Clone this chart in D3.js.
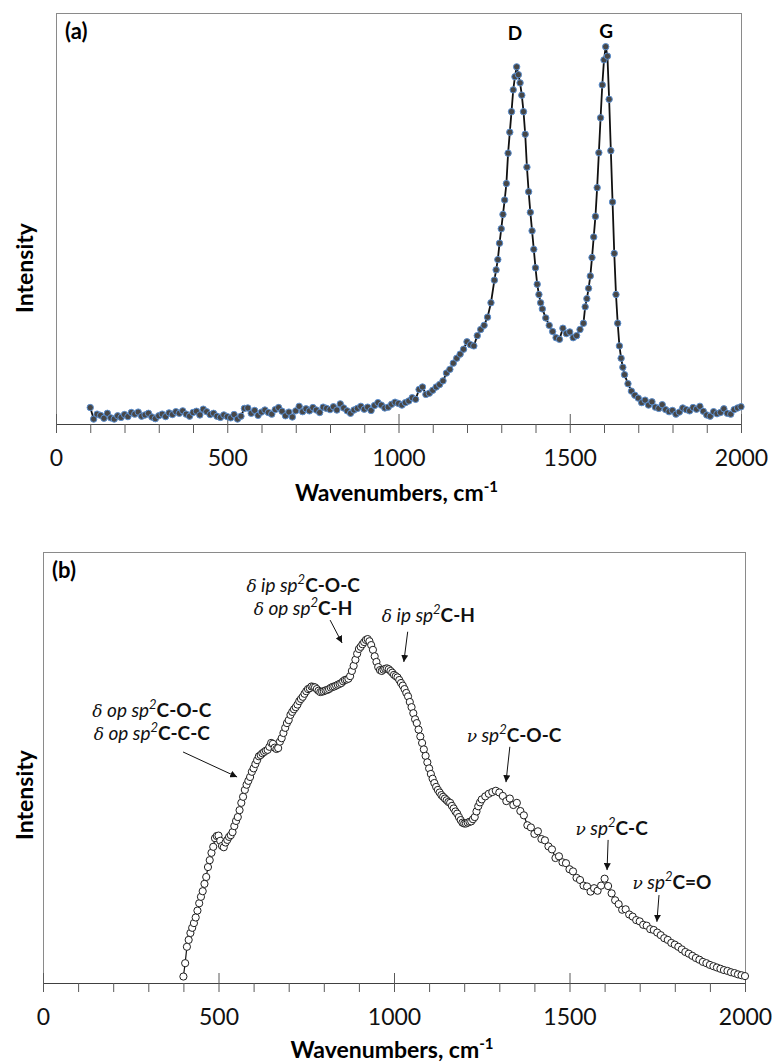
<!DOCTYPE html>
<html>
<head>
<meta charset="utf-8">
<script src="https://cdn.jsdelivr.net/npm/d3@7"></script>
<style>
  body { margin: 0; background: #fff; }
  svg { display: block; font-family: Lato, "Open Sans", sans-serif; }
</style>
</head>
<body>
<div id="chart"></div>
<script>
// tick values shared by both panels
const majorTicks = [0, 500, 1000, 1500, 2000];
const minorTicks = [0, 100, 200, 300, 400, 500, 600, 700, 800, 900, 1000,
  1100, 1200, 1300, 1400, 1500, 1600, 1700, 1800, 1900, 2000];

// panel (a): [wavenumber, intensity]
const ramanA = [
  [100,4.0],[110,1.2],[120,2.4],[130,2.1],[140,1.4],[150,2.6],[160,1.5],[170,1.2],[180,2.0],[190,1.6],
  [200,2.3],[210,1.8],[220,2.8],[230,2.4],[240,2.9],[250,1.9],[260,2.2],[270,2.6],[280,1.7],[290,1.3],
  [300,2.0],[310,2.4],[320,1.8],[330,2.7],[340,2.3],[350,3.0],[360,2.6],[370,3.2],[380,2.4],[390,1.9],
  [400,2.8],[410,3.1],[420,2.2],[430,3.6],[440,3.0],[450,2.3],[460,2.6],[470,1.9],[480,1.6],[490,2.2],
  [500,1.8],[510,1.5],[520,2.3],[530,1.2],[540,1.9],[550,3.8],[560,3.9],[570,2.6],[580,3.3],[590,2.1],
  [600,2.9],[610,3.4],[620,2.8],[630,2.4],[640,3.5],[650,4.0],[660,3.1],[670,2.0],[680,2.9],[690,1.7],
  [700,3.2],[710,4.3],[720,3.0],[730,3.7],[740,3.2],[750,4.0],[760,3.4],[770,2.8],[780,4.1],[790,3.8],
  [800,3.5],[810,4.2],[820,3.4],[830,4.9],[840,3.9],[850,3.2],[860,2.6],[870,3.4],[880,3.8],[890,4.3],
  [900,3.6],[910,4.1],[920,3.3],[930,4.5],[940,5.2],[950,4.6],[960,3.9],[970,4.1],[980,4.8],[990,5.3],
  [1000,5.0],[1010,4.6],[1020,5.2],[1030,5.6],[1040,6.4],[1050,6.0],[1060,8.4],[1070,9.0],[1080,7.2],[1090,7.5],
  [1100,8.2],[1110,9.0],[1120,9.6],[1130,10.5],[1140,12.4],[1150,13.3],[1160,14.8],[1170,16.0],[1180,17.0],[1190,18.2],
  [1200,20.0],[1210,19.3],[1220,19.0],[1230,21.5],[1240,23.0],[1250,24.0],[1260,26.0],[1270,29.5],
  [1280,35.0],[1285,37.5],[1290,40.0],[1295,44.0],[1300,47.5],[1305,51.0],[1310,54.5],[1315,58.5],
  [1320,65.9],[1325,71.0],[1330,76.0],[1335,81.3],[1340,84.5],[1345,86.9],[1350,85.0],[1355,83.0],
  [1360,80.0],[1365,76.0],[1370,70.5],[1375,62.5],[1380,56.5],[1385,51.5],[1390,47.0],[1395,42.5],
  [1400,38.0],[1405,34.0],[1410,31.5],[1415,29.5],[1420,28.0],[1430,25.8],[1440,24.0],[1450,22.5],
  [1460,21.0],[1470,20.6],[1480,23.3],[1490,22.0],[1500,22.4],[1510,21.0],[1520,21.5],[1530,23.0],
  [1540,24.5],[1545,28.5],[1550,30.5],[1555,33.0],[1560,36.0],[1565,40.5],[1570,45.5],[1575,50.5],
  [1580,57.5],[1585,66.0],[1590,74.5],[1595,82.5],[1600,88.6],[1605,91.8],[1610,89.5],[1615,79.0],
  [1620,66.5],[1625,54.0],[1630,41.5],[1635,31.5],[1640,24.5],[1645,19.0],[1650,16.0],[1655,13.8],
  [1660,12.0],[1670,9.8],[1680,8.0],[1690,7.0],[1700,6.3],[1710,5.2],[1720,5.8],[1730,4.6],[1740,5.4],
  [1750,4.1],[1760,3.8],[1770,4.7],[1780,3.5],[1790,3.0],[1800,3.3],[1810,2.4],[1820,2.9],[1830,3.9],
  [1840,3.5],[1850,3.2],[1860,4.0],[1870,3.6],[1880,4.3],[1890,3.1],[1900,2.2],[1910,1.9],[1920,3.0],
  [1930,2.5],[1940,2.8],[1950,3.7],[1960,2.6],[1970,2.4],[1980,3.5],[1990,3.9],[2000,4.2]
];

// panel (b): [wavenumber, intensity]
const ramanB = [
  [400,1.5],[405,4.6],[410,8.4],[415,10.0],[420,11.6],[425,12.8],[430,13.9],[435,15.2],[440,16.8],[445,18.5],
  [450,20.0],[455,21.3],[460,23.0],[465,24.6],[470,26.9],[475,28.5],[480,30.2],[485,31.6],[490,33.6],[495,34.1],
  [500,34.2],[505,33.0],[510,31.8],[515,31.5],[520,32.6],[525,33.2],[530,33.9],[535,34.3],[540,35.0],[545,36.4],
  [550,37.6],[555,38.5],[560,40.1],[565,41.8],[570,43.2],[575,44.8],[580,46.0],[585,46.9],[590,47.8],[595,49.0],
  [600,49.8],[605,50.8],[610,51.7],[615,52.6],[620,52.9],[625,53.3],[630,53.6],[635,53.9],[640,54.1],[645,54.8],
  [650,55.7],[655,55.5],[660,54.6],[665,54.3],[670,54.5],[675,56.0],[680,56.8],[685,58.0],[690,59.2],[695,60.3],
  [700,61.0],[705,62.2],[710,62.9],[715,63.5],[720,64.0],[725,64.6],[730,65.4],[735,65.9],[740,66.4],[745,67.1],
  [750,67.7],[755,68.2],[760,68.4],[765,68.8],[770,68.7],[775,68.6],[780,68.2],[785,67.8],[790,67.5],[795,67.6],
  [800,67.7],[805,67.9],[810,68.0],[815,68.2],[820,68.5],[825,68.7],[830,68.8],[835,69.0],[840,69.2],[845,69.4],
  [850,69.6],[855,70.0],[860,70.3],[865,70.4],[870,70.6],[875,71.2],[880,72.4],[885,73.6],[890,75.0],[895,76.4],
  [900,77.5],[905,78.0],[910,78.6],[915,79.1],[920,79.6],[925,79.8],[930,79.3],[935,78.4],[940,77.3],[945,75.8],
  [950,74.5],[955,73.3],[960,72.6],[965,72.4],[970,72.7],[975,72.9],[980,73.0],[985,72.8],[990,72.4],[995,72.0],
  [1000,71.5],[1005,71.2],[1010,70.9],[1015,70.3],[1020,69.6],[1025,69.0],[1030,68.2],[1035,67.3],[1040,66.5],[1045,65.2],
  [1050,64.0],[1055,62.6],[1060,61.2],[1065,60.3],[1070,58.8],[1075,57.2],[1080,55.7],[1085,54.2],[1090,52.7],[1095,51.2],
  [1100,49.8],[1105,48.5],[1110,47.4],[1115,46.4],[1120,45.5],[1125,44.8],[1130,44.2],[1135,43.6],[1140,43.2],[1145,42.8],
  [1150,42.4],[1155,42.0],[1160,41.8],[1165,41.1],[1170,40.5],[1175,39.8],[1180,39.3],[1185,38.5],[1190,37.8],[1195,37.2],
  [1200,37.0],[1205,37.0],[1210,37.2],[1215,37.4],[1220,37.5],[1225,38.0],[1230,38.5],[1235,39.8],[1240,41.0],[1245,41.9],
  [1250,42.6],[1260,43.3],[1270,43.9],[1280,44.3],[1290,44.6],[1300,44.2],[1310,43.4],[1320,42.2],[1330,42.8],[1340,41.3],
  [1350,41.8],[1360,39.9],[1370,38.9],[1380,36.6],[1390,36.1],[1400,34.6],[1410,35.2],[1420,33.4],[1430,33.1],[1440,31.7],
  [1450,31.0],[1460,29.0],[1470,29.4],[1480,28.0],[1490,27.8],[1500,26.4],[1510,25.9],[1520,24.4],[1530,23.9],[1540,22.6],
  [1550,22.4],[1560,21.2],[1570,22.0],[1580,21.4],[1590,22.6],[1600,24.2],[1610,22.5],[1620,20.8],[1630,19.2],[1640,18.3],
  [1650,17.0],[1660,17.1],[1670,15.9],[1680,15.4],[1690,14.6],[1700,14.3],[1710,13.5],[1720,13.3],[1730,12.5],[1740,12.3],
  [1750,11.7],[1760,11.1],[1770,10.4],[1780,10.0],[1790,9.3],[1800,8.9],[1810,8.4],[1820,7.8],[1830,7.2],[1840,6.8],
  [1850,6.3],[1860,5.8],[1870,5.4],[1880,4.9],[1890,4.6],[1900,4.2],[1910,3.9],[1920,3.6],[1930,3.3],[1940,3.0],
  [1950,2.8],[1960,2.5],[1970,2.3],[1980,2.0],[1990,1.8],[2000,1.6]
];

const peakLabelsA = [
  { name: "D", at: [1340, 95.1] },
  { name: "G", at: [1606, 95.6] }
];

// band assignments for panel (b): [symbol, mode, bond] per line
const bandsB = [
  { lines: [["δ", "op", "C-O-C"], ["δ", "op", "C-C-C"]], at: [310, 63.3], tail: [399, 53.6], tip: [553, 47.8] },
  { lines: [["δ", "ip", "C-O-C"], ["δ", "op", "C-H"]], at: [741, 92.3], tail: [818, 84.2], tip: [852, 78.9] },
  { lines: [["δ", "ip", "C-H"]], at: [1098, 85.4], tail: [1039, 81.5], tip: [1028, 74.5] },
  { lines: [["ν", "", "C-O-C"]], at: [1342, 57.5], tail: [1330, 54.8], tip: [1319, 46.6] },
  { lines: [["ν", "", "C-C"]], at: [1620, 36.0], tail: [1610, 33.2], tip: [1607, 26.2] },
  { lines: [["ν", "", "C=O"]], at: [1792, 23.4], tail: [1755, 20.4], tip: [1749, 14.2] }
];

const svg = d3.select("#chart").append("svg")
  .attr("width", 776)
  .attr("height", 1063);

svg.append("defs").append("marker")
  .attr("id", "arrow")
  .attr("viewBox", "0 0 10 10")
  .attr("refX", 10).attr("refY", 5)
  .attr("markerWidth", 7).attr("markerHeight", 7)
  .attr("markerUnits", "userSpaceOnUse")
  .attr("orient", "auto")
  .append("path")
  .attr("d", "M0,0 L10,5 L0,10 z")
  .attr("fill", "#111");

const drawPanel = cfg => {
  const { x, y, label, titleY, yTitleMid } = cfg;
  const [left, right] = x.range();
  const [bottom, top] = y.range();
  const g = svg.append("g");

  g.append("rect")
    .attr("x", left + 0.5).attr("y", top + 0.5)
    .attr("width", right - left).attr("height", bottom - top)
    .attr("fill", "none").attr("stroke", "#8a8a8a");

  // ticks below the axis, labels on majors
  const xAxis = g.append("g")
    .attr("transform", `translate(0,${bottom})`)
    .call(d3.axisBottom(x)
      .tickValues(minorTicks)
      .tickSizeInner(9).tickSizeOuter(0)
      .tickFormat(d => majorTicks.includes(d) ? d : ""));
  xAxis.select(".domain").attr("stroke", "#404040");
  xAxis.selectAll(".tick line").attr("stroke", "#595959");
  xAxis.selectAll(".tick text")
    .attr("y", 26)
    .attr("fill", "#111")
    .style("font-family", "Lato, 'Open Sans', sans-serif")
    .style("font-size", "23px");

  // major ticks cross the axis
  const xUp = g.append("g")
    .attr("transform", `translate(0,${bottom})`)
    .call(d3.axisTop(x).tickValues(majorTicks).tickSize(10).tickFormat(""));
  xUp.select(".domain").remove();
  xUp.selectAll(".tick line").attr("stroke", "#595959");

  const line = d3.line().x(d => x(d[0])).y(d => y(d[1]));
  g.append("path")
    .attr("d", line(cfg.data))
    .attr("fill", "none")
    .attr("stroke", "#111")
    .attr("stroke-width", cfg.lineWidth);

  g.append("g").selectAll("circle")
    .data(cfg.data)
    .join("circle")
    .attr("cx", d => x(d[0]))
    .attr("cy", d => y(d[1]))
    .attr("r", cfg.r)
    .attr("fill", cfg.fill)
    .attr("stroke", cfg.stroke)
    .attr("stroke-width", cfg.strokeWidth);

  g.append("text")
    .attr("x", left + 9).attr("y", top + 26)
    .attr("font-size", 22).attr("font-weight", "bold")
    .text(label);

  const xt = g.append("text")
    .attr("x", (left + right) / 2 - 2).attr("y", titleY)
    .attr("text-anchor", "middle")
    .attr("font-size", 23).attr("font-weight", "bold")
    .text("Wavenumbers, cm");
  xt.append("tspan").attr("baseline-shift", "super").attr("font-size", 15).text("-1");

  g.append("text")
    .attr("transform", `translate(33,${yTitleMid}) rotate(-90)`)
    .attr("text-anchor", "middle")
    .attr("font-size", 23).attr("font-weight", "bold")
    .text("Intensity");

  return g;
};

const xA = d3.scaleLinear([0, 2000], [56, 741]);
const yA = d3.scaleLinear([0, 100], [424, 13]);
const gA = drawPanel({
  x: xA, y: yA, data: ramanA, label: "(a)", titleY: 501, yTitleMid: 268,
  r: 3.2, fill: "#474747", stroke: "#5b8fd0", strokeWidth: 1, lineWidth: 1.8
});

gA.selectAll(".peak")
  .data(peakLabelsA)
  .join("text")
  .attr("class", "peak")
  .attr("x", d => xA(d.at[0]))
  .attr("y", d => yA(d.at[1]) + 7)
  .attr("text-anchor", "middle")
  .attr("font-size", 19).attr("font-weight", "bold")
  .text(d => d.name);

const xB = d3.scaleLinear([0, 2000], [43, 745]);
const yB = d3.scaleLinear([0, 100], [983, 552]);
const gB = drawPanel({
  x: xB, y: yB, data: ramanB, label: "(b)", titleY: 1058, yTitleMid: 795,
  r: 3.6, fill: "#fff", stroke: "#1e1e1e", strokeWidth: 1, lineWidth: 1.2
});

const bandG = gB.append("g").selectAll("g")
  .data(bandsB)
  .join("g");

bandG.append("line")
  .attr("x1", d => xB(d.tail[0])).attr("y1", d => yB(d.tail[1]))
  .attr("x2", d => xB(d.tip[0])).attr("y2", d => yB(d.tip[1]))
  .attr("stroke", "#111").attr("stroke-width", 1)
  .attr("marker-end", "url(#arrow)");

bandG.each(function(d) {
  const grp = d3.select(this);
  d.lines.forEach(([sym, mode, bond], i) => {
    const t = grp.append("text")
      .attr("x", xB(d.at[0]))
      .attr("y", yB(d.at[1]) + i * 23 + 7)
      .attr("text-anchor", "middle")
      .attr("font-size", 19)
      .attr("fill", "#111");
    t.append("tspan").attr("font-style", "italic")
      .style("font-family", "'DejaVu Serif', serif").attr("font-size", 17).text(sym);
    t.append("tspan").attr("font-style", "italic").text(mode ? " " + mode + " sp" : " sp");
    t.append("tspan").attr("font-style", "italic").attr("font-size", 13)
      .attr("baseline-shift", "super").text("2");
    t.append("tspan").attr("font-weight", "bold").text(bond);
  });
});
</script>
</body>
</html>
